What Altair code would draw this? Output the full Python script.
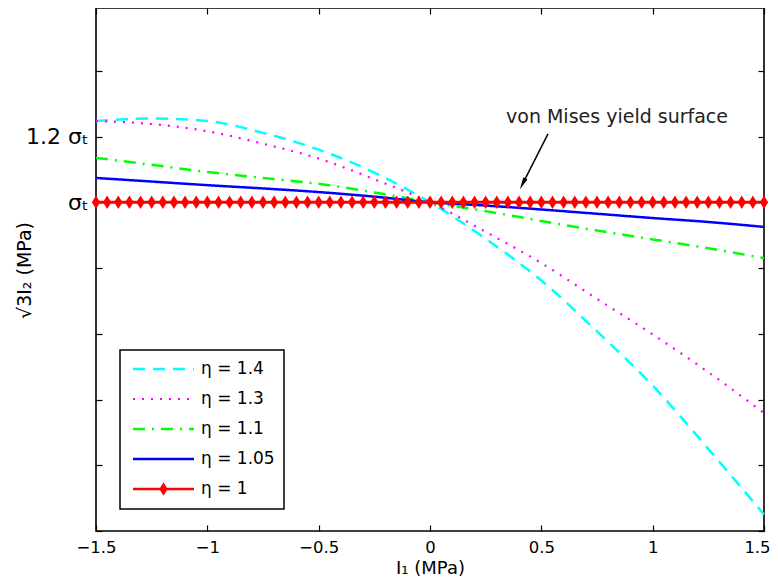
import altair as alt
import pandas as pd

# ---------------- data ----------------
x_vals = [-1.5, -1.25, -1.0, -0.75, -0.5, -0.25, 0.0, 0.25, 0.5, 0.75, 1.0, 1.25, 1.5]
eta_1_4 = [1.247, 1.255, 1.247, 1.211, 1.160, 1.090, 1.0, 0.889, 0.762, 0.607, 0.442, 0.250, 0.050]
eta_1_3 = [1.247, 1.238, 1.216, 1.178, 1.133, 1.070, 1.0, 0.910, 0.815, 0.706, 0.598, 0.483, 0.359]
eta_1_1 = [1.135, 1.114, 1.092, 1.074, 1.056, 1.030, 1.0, 0.973, 0.943, 0.914, 0.887, 0.860, 0.830]
eta_1_05 = [1.074, 1.063, 1.052, 1.042, 1.031, 1.017, 1.0, 0.990, 0.978, 0.965, 0.952, 0.940, 0.925]
x_red = [round(-1.5 + 0.05 * i, 2) for i in range(61)]
eta_1 = [1.0] * 61

labels = ["η = 1.4", "η = 1.3", "η = 1.1", "η = 1.05", "η = 1"]
colors = ["#00FFFF", "#FF00FF", "#00FF00", "#0000FF", "#FF0000"]
dashes = [[12, 8], [2, 7], [12, 7, 2, 7], [1, 0], [1, 0]]

x_ticks = [-1.5, -1.0, -0.5, 0.0, 0.5, 1.0, 1.5]
y_ticks = [0.0, 0.2, 0.4, 0.6, 0.8, 1.0, 1.2, 1.4]
y_label_vals = [1.0, 1.2]

arrow_from = {"x": 0.530, "y": 1.208}
arrow_to = {"x": 0.416, "y": 1.056}
annotation = "von Mises yield surface"

# ---------------- geometry ----------------
W, H = 668, 523
X_DOM = [-1.5, 1.5]
Y_DOM = [0.0, 1.5909]
FONT = "DejaVu Sans"

xscale = alt.Scale(domain=X_DOM, nice=False, zero=False)
yscale = alt.Scale(domain=Y_DOM, nice=False, zero=False)

x_main = alt.X(
    "x:Q", scale=xscale,
    axis=alt.Axis(values=x_ticks, ticks=False, domain=False, grid=False,
                  labelFontSize=16.5, labelPadding=8, labelFont=FONT, labelColor="black",
                  labelFlush=False, format=".1~f",
                  labelOffset={"condition": {"test": "datum.value == 1.5", "value": -7}, "value": 0},
                  labelExpr="replace(datum.label, '-', '\u2212')",
                  title="I\u2081 (MPa)", titleFontSize=18, titleFont=FONT,
                  titleFontWeight="normal", titlePadding=4, titleColor="black"))
y_main = alt.Y(
    "y:Q", scale=yscale,
    axis=alt.Axis(values=y_label_vals, ticks=False, domain=False, grid=False,
                  labelFontSize=22, labelPadding=8, labelFont=FONT, labelColor="black",
                  labelExpr="datum.value == 1 ? '\u03c3\u209c' : '1.2 \u03c3\u209c'",
                  title="\u221a3I\u2082 (MPa)", titleFontSize=19, titleFont=FONT,
                  titleFontWeight="normal", titleColor="black",
                  titleX=-72, titleY=262, titleBaseline="middle", titleAlign="center",
                  titleAngle=-90))


def series_layer(xs, ys, i):
    df = pd.DataFrame({"x": xs, "y": ys})
    return alt.Chart(df).mark_line(
        color=colors[i], strokeWidth=2.5 if i != 1 else 2.2, strokeDash=dashes[i],
        interpolate="monotone").encode(x=x_main, y=y_main)


layers = [
    series_layer(x_vals, eta_1_4, 0),
    series_layer(x_vals, eta_1_3, 1),
    series_layer(x_vals, eta_1_1, 2),
    series_layer(x_vals, eta_1_05, 3),
]
red_df = pd.DataFrame({"x": x_red, "y": eta_1})
diamond = "M0,-1L0.62,0L0,1L-0.62,0Z"
layers.append(alt.Chart(red_df).mark_line(color=colors[4], strokeWidth=3).encode(x=x_main, y=y_main))
layers.append(alt.Chart(red_df).mark_point(shape=diamond, size=180, filled=True, color=colors[4],
                                            opacity=1).encode(x=x_main, y=y_main))

# annotation arrow
arrow_df = pd.DataFrame({"x": [arrow_from["x"]], "y": [arrow_from["y"]],
                         "x2": [arrow_to["x"]], "y2": [arrow_to["y"]]})
layers.append(alt.Chart(arrow_df).mark_rule(color="black", strokeWidth=1.5).encode(
    x=x_main, y=y_main, x2="x2:Q", y2="y2:Q"))
head_df = pd.DataFrame({"x": [arrow_to["x"]], "y": [arrow_to["y"]]})
layers.append(alt.Chart(head_df).mark_point(shape="M0,-1L0.38,1L-0.38,1Z", size=150, filled=True,
                                             color="black", opacity=1, angle=207).encode(x=x_main, y=y_main))
layers.append(alt.Chart(head_df).mark_text(text=annotation, font=FONT, fontSize=19, color="#222222",
                                            align="center", baseline="middle").encode(
    x=alt.value(521), y=alt.value(109)))

# ---------------- manual legend ----------------
LX0, LX1, LY0, LY1 = 24, 188, 342, 501
row_y = [361, 391, 421, 451, 481]
legend_layers = [
    alt.Chart(head_df).mark_rect(fill="white", stroke="black", strokeWidth=1.5).encode(
        x=alt.value(LX0), x2=alt.value(LX1), y=alt.value(LY0), y2=alt.value(LY1))
]
for i, lab in enumerate(labels):
    legend_layers.append(alt.Chart(head_df).mark_rule(
        color=colors[i], strokeWidth=2.5 if i != 1 else 2.2, strokeDash=dashes[i]).encode(
        x=alt.value(37), x2=alt.value(98), y=alt.value(row_y[i])))
    legend_layers.append(alt.Chart(head_df).mark_text(
        text=lab, font=FONT, fontSize=17, color="black", align="left", baseline="middle").encode(
        x=alt.value(105), y=alt.value(row_y[i])))
legend_layers.append(alt.Chart(head_df).mark_point(
    shape=diamond, size=180, filled=True, color=colors[4], opacity=1).encode(
    x=alt.value(67.5), y=alt.value(row_y[4])))

data_layer = alt.layer(*layers, *legend_layers)

# ---------------- inward tick marks on all four sides ----------------
tick_df = pd.DataFrame({"x": x_vals, "y": eta_1_05})


def tick_layer(x_orient, y_orient):
    return alt.Chart(tick_df).mark_point(opacity=0).encode(
        x=alt.X("x:Q", scale=xscale,
                axis=alt.Axis(orient=x_orient, offset=-H, values=x_ticks, labels=False, domain=False,
                              grid=False, ticks=True, tickSize=6, tickWidth=1.2, tickColor="black",
                              title=None)),
        y=alt.Y("y:Q", scale=yscale,
                axis=alt.Axis(orient=y_orient, offset=-W, values=y_ticks, labels=False, domain=False,
                              grid=False, ticks=True, tickSize=6, tickWidth=1.2, tickColor="black",
                              title=None)))


chart = alt.layer(
    data_layer,
    tick_layer("top", "right"),      # ticks at bottom edge (up) and left edge (right)
    tick_layer("bottom", "left"),    # ticks at top edge (down) and right edge (left)
).resolve_scale(x="independent", y="independent").properties(
    width=W, height=H,
    autosize=alt.AutoSizeParams(type="none"),
    padding={"left": 88, "top": 0, "right": 6, "bottom": 47},
    background="white",
).configure_view(stroke="black", strokeWidth=1.6)

chart.save("out.html", embed_options={"renderer": "svg", "actions": False})
